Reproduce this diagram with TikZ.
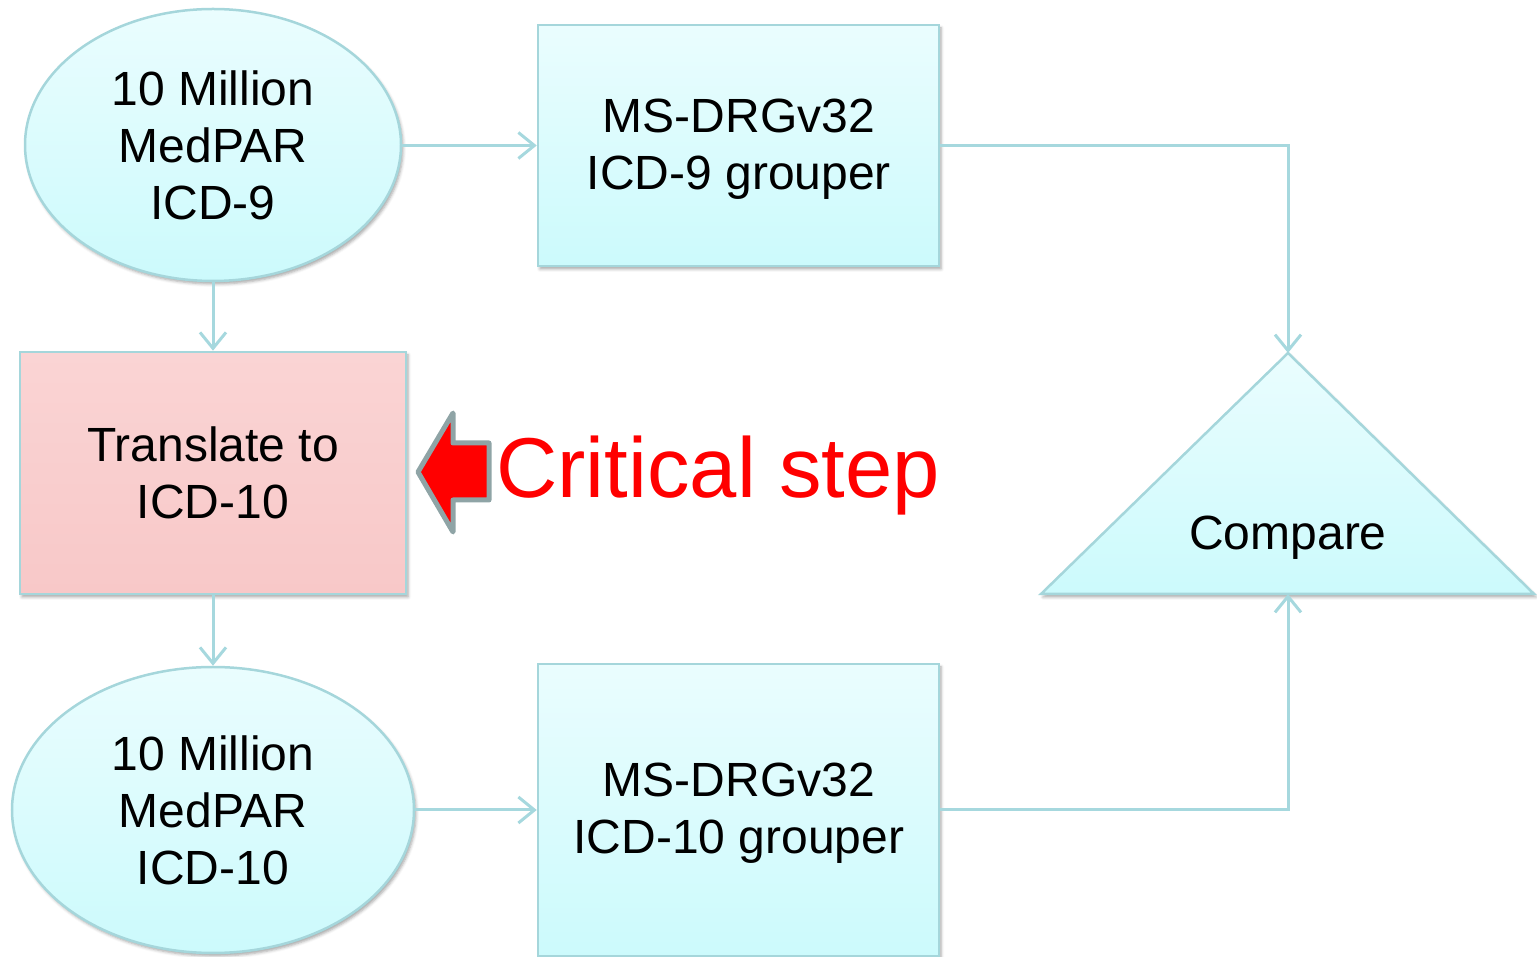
\documentclass[tikz,border=0pt]{standalone}
\usepackage{fontspec}
\setmainfont{Liberation Sans}
\usetikzlibrary{shapes.geometric,arrows.meta,shadows.blur}
\definecolor{conn}{RGB}{166,216,222}
\definecolor{edge}{RGB}{165,214,219}
\definecolor{cyanTop}{RGB}{234,253,254}
\definecolor{cyanBot}{RGB}{204,250,252}
\definecolor{pinkTop}{RGB}{250,212,212}
\definecolor{pinkBot}{RGB}{248,200,200}
\definecolor{arrowgray}{RGB}{143,164,166}
\tikzset{
  shp/.style={draw=edge, line width=2.5pt, top color=cyanTop, bottom color=cyanBot, inner sep=0pt,
    blur shadow={shadow xshift=2pt, shadow yshift=-3pt, shadow blur radius=3pt, shadow opacity=35},
    font=\fontsize{48}{57}\selectfont, align=center},
  ell/.style={shp, ellipse},
  box/.style={shp, rectangle},
  pinkbox/.style={shp, rectangle, top color=pinkTop, bottom color=pinkBot},
  txt/.style={font=\fontsize{48}{57}\selectfont, align=center, inner sep=0pt},
  conn/.style={draw=conn, line width=3pt, -{Straight Barb[length=16pt,width=26pt,line width=3pt]}},
}
\begin{document}
\begin{tikzpicture}[x=1pt,y=1pt]
\useasboundingbox (0,0) rectangle (1537,956);
% shapes
\node[ell, minimum width=376pt, minimum height=272pt] (topEll) at (213,811) {10 Million\\MedPAR\\ICD-9};
\node[box, minimum width=401pt, minimum height=241pt] (topRect) at (738.5,810.5) {};
\node[txt] (topRectTxt) at (739,806.5) {MS-DRGv32\\ICD-9 grouper};
\node[pinkbox, minimum width=386pt, minimum height=242pt] (trans) at (213,483) {Translate to\\ICD-10};
\node[ell, minimum width=402pt, minimum height=286pt] (botEll) at (213,146) {10 Million\\MedPAR\\ICD-10};
\node[box, minimum width=401pt, minimum height=292pt] (botRect) at (738.5,146) {};
\node[txt] (botRectTxt) at (739,143) {MS-DRGv32\\ICD-10 grouper};
% triangle
\coordinate (cmpTop) at (1288,603);
\coordinate (cmpBot) at (1288,362);
\path[draw=edge, line width=2.5pt, top color=cyanTop, bottom color=cyanBot, line join=miter,
  blur shadow={shadow xshift=2pt, shadow yshift=-3pt, shadow blur radius=3pt, shadow opacity=35}]
  (cmpTop) -- (1534,362) -- (1041,362) -- cycle;
\node[font=\fontsize{48}{57}\selectfont] (cmp) at (1288,418) {Compare};
% connectors
\draw[conn] (topEll.east |- topRect.west) -- (topRect.west);
\draw[conn] (topRect.east) -| (cmpTop);
\draw[conn] (topEll.south) -- (trans.north);
\draw[conn] (trans.south) -- (botEll.north);
\draw[conn] (botEll.east |- botRect.west) -- (botRect.west);
\draw[conn] (botRect.east) -| (cmpBot);
% critical step
\draw[fill=red, draw=arrowgray, line width=5pt, line join=round]
  (418,484) -- (453,543) -- (453,513) -- (489,513) -- (489,456) -- (453,456) -- (453,424) -- cycle;
\node[anchor=base west, inner sep=0pt, text=red, font=\fontsize{85}{90}\selectfont] (crit) at (496,458) {Critical step};
\end{tikzpicture}
\end{document}
